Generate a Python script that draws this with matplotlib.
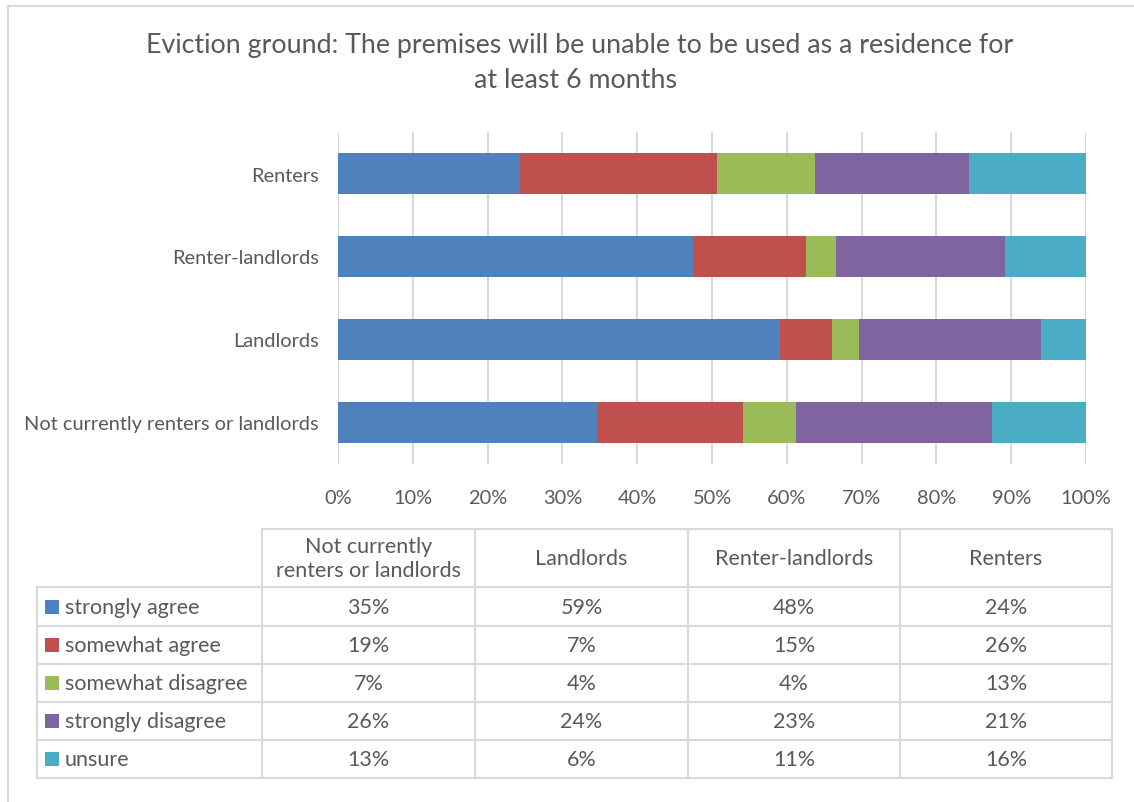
# stacked bar of eviction ground survey, with Excel-style data table underneath

import numpy as np
import matplotlib
matplotlib.use('Agg')
import matplotlib.pyplot as plt
from matplotlib.patches import Rectangle
from matplotlib.lines import Line2D

groups = ['Not currently renters or landlords', 'Landlords', 'Renter-landlords', 'Renters']
table_heads = ['Not currently\nrenters or landlords', 'Landlords', 'Renter-landlords', 'Renters']
responses = ['strongly agree', 'somewhat agree', 'somewhat disagree', 'strongly disagree', 'unsure']

# shares (%) per group, in the order of `groups`
strongly_agree = [34.8, 59.1, 47.6, 24.3]
somewhat_agree = [19.4, 6.9, 14.9, 26.4]
somewhat_disagree = [7.0, 3.7, 4.1, 13.1]
strongly_disagree = [26.2, 24.3, 22.6, 20.6]
unsure = [12.6, 6.0, 10.8, 15.6]

colors = ['#4F81BD', '#C0504D', '#9BBB59', '#8064A2', '#4BACC6']
txt = '#595959'
grid = '#D9D9D9'
font = 'Lato'

W, H = 1134, 803
fig = plt.figure(figsize=(W / 100., H / 100.), dpi=100)
fig.patch.set_facecolor('white')


def fx(x):
    return x / float(W)


def fy(y):
    return 1 - y / float(H)


# chart border (top and left visible, rest runs off the image)
fig.add_artist(Line2D([fx(8), fx(8)], [fy(7), 0], color=grid, lw=1.5))
fig.add_artist(Line2D([fx(8), 1], [fy(7), fy(7)], color=grid, lw=1.5))

fig.text(fx(580), fy(46), 'Eviction ground: The premises will be unable to be used as a residence for',
         ha='center', va='center', color=txt, fontsize=19.3, family=font)
fig.text(fx(575), fy(81), 'at least 6 months',
         ha='center', va='center', color=txt, fontsize=19.3, family=font)

# bars
ax = fig.add_axes([fx(338), fy(465), fx(1086) - fx(338), fy(133) - fy(465)])
series = [strongly_agree, somewhat_agree, somewhat_disagree, strongly_disagree, unsure]
ypos = np.arange(len(groups))
left = np.zeros(len(groups))
for vals, c, name in zip(series, colors, responses):
    vals = np.array(vals)
    ax.barh(ypos, vals, left=left, height=0.5, color=c, label=name, zorder=3)
    left = left + vals

ax.set_xlim(0, 100)
ax.set_ylim(-0.5, len(groups) - 0.5)
ax.set_xticks(np.arange(0, 101, 10))
ax.set_xticklabels(['%d%%' % v for v in np.arange(0, 101, 10)])
ax.set_yticks(ypos)
ax.set_yticklabels(groups)
ax.grid(axis='x', color=grid, lw=1.5, zorder=0)
for s in ax.spines.values():
    s.set_visible(False)
ax.tick_params(length=0, colors=txt, labelsize=14.4)
ax.tick_params(axis='x', pad=18)
ax.tick_params(axis='y', pad=14)
for lab in ax.get_xticklabels() + ax.get_yticklabels():
    lab.set_family(font)

# data table
cols = [262, 475, 688, 900, 1112]
rows = [530, 588, 627, 665, 703, 741, 779]
leg_left = 37
lw = 1.5
fs = 15.5
# header box
fig.add_artist(Line2D([fx(cols[0]), fx(cols[-1])], [fy(rows[0]), fy(rows[0])], color=grid, lw=lw))
for r in rows[1:]:
    fig.add_artist(Line2D([fx(leg_left), fx(cols[-1])], [fy(r), fy(r)], color=grid, lw=lw))
for c in cols:
    fig.add_artist(Line2D([fx(c), fx(c)], [fy(rows[0]), fy(rows[-1])], color=grid, lw=lw))
fig.add_artist(Line2D([fx(leg_left), fx(leg_left)], [fy(rows[1]), fy(rows[-1])], color=grid, lw=lw))

for j, head in enumerate(table_heads):
    xc = (cols[j] + cols[j + 1]) / 2.
    fig.text(fx(xc), fy((rows[0] + rows[1]) / 2.), head, ha='center', va='center',
             color=txt, fontsize=fs, family=font, linespacing=1.3)

for i, (name, vals, c) in enumerate(zip(responses, series, colors)):
    yc = (rows[i + 1] + rows[i + 2]) / 2.
    fig.add_artist(Rectangle((fx(45), fy(yc + 7)), fx(14), fy(0) - fy(14),
                             facecolor=c, edgecolor='none', transform=fig.transFigure))
    fig.text(fx(65), fy(yc), name, ha='left', va='center', color=txt,
             fontsize=fs, family=font)
    for j, v in enumerate(vals):
        xc = (cols[j] + cols[j + 1]) / 2.
        fig.text(fx(xc), fy(yc), '%d%%' % int(round(v)), ha='center', va='center',
                 color=txt, fontsize=fs, family=font)

plt.savefig('out.png', dpi=100, facecolor='white')
